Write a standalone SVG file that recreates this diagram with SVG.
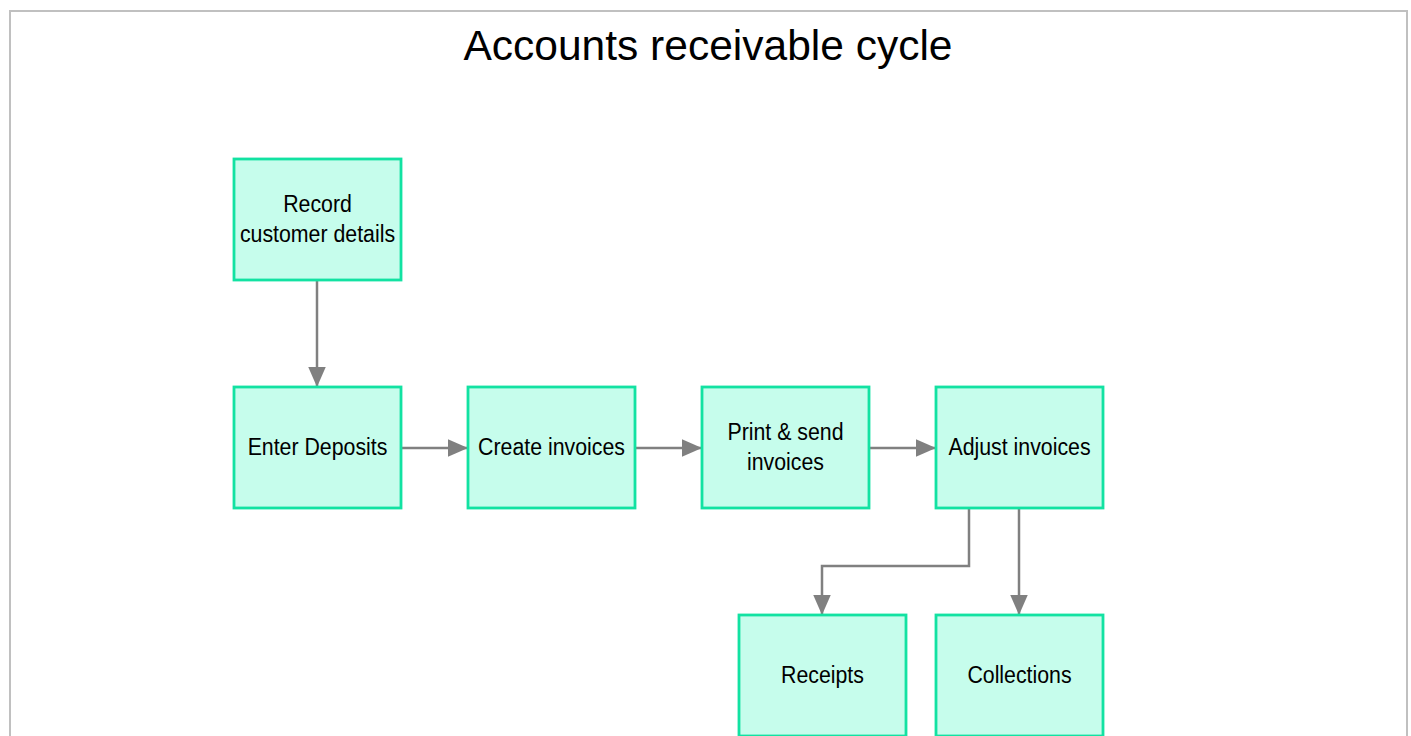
<svg xmlns="http://www.w3.org/2000/svg" width="1411" height="736" viewBox="0 0 1411 736">
<defs>
<style>
.box{fill:#c6fdec;stroke:#12e2a2;stroke-width:2.8}
.lbl{font-family:"Liberation Sans",Arial,sans-serif;font-size:23.5px;fill:#000;text-anchor:middle}
.con{fill:none;stroke:#808080;stroke-width:2.5}
</style>
<marker id="arr" viewBox="0 0 10 10" refX="10" refY="5" markerWidth="8" markerHeight="7" preserveAspectRatio="none" markerUnits="strokeWidth" orient="auto">
<path d="M0,0 L10,5 L0,10 z" fill="#808080"/>
</marker>
</defs>
<rect x="0" y="0" width="1411" height="736" fill="#fff"/>
<rect x="10" y="11" width="1397" height="740" fill="none" stroke="#c0c0c0" stroke-width="2"/>
<text x="708" y="60" font-family="'Liberation Sans',Arial,sans-serif" font-size="42.5" text-anchor="middle" fill="#000">Accounts receivable cycle</text>
<g id="connectors">
<path class="con" d="M317,281 V387" marker-end="url(#arr)"/>
<path class="con" d="M401,448 H468" marker-end="url(#arr)"/>
<path class="con" d="M635,448 H702" marker-end="url(#arr)"/>
<path class="con" d="M869,448 H936" marker-end="url(#arr)"/>
<path class="con" d="M969,509 V566 H822 V615" marker-end="url(#arr)"/>
<path class="con" d="M1019,509 V615" marker-end="url(#arr)"/>
</g>
<g id="record">
<rect class="box" x="234" y="159" width="167" height="121"/>
<text class="lbl" transform="translate(317.5,212) scale(0.907,1)">Record</text>
<text class="lbl" transform="translate(317.5,242) scale(0.907,1)">customer details</text>
</g>
<g id="enter">
<rect class="box" x="234" y="387" width="167" height="121"/>
<text class="lbl" transform="translate(317.5,455) scale(0.907,1)">Enter Deposits</text>
</g>
<g id="create">
<rect class="box" x="468" y="387" width="167" height="121"/>
<text class="lbl" transform="translate(551.5,455) scale(0.907,1)">Create invoices</text>
</g>
<g id="print">
<rect class="box" x="702" y="387" width="167" height="121"/>
<text class="lbl" transform="translate(785.5,440) scale(0.907,1)">Print &amp; send</text>
<text class="lbl" transform="translate(785.5,470) scale(0.907,1)">invoices</text>
</g>
<g id="adjust">
<rect class="box" x="936" y="387" width="167" height="121"/>
<text class="lbl" transform="translate(1019.5,455) scale(0.907,1)">Adjust invoices</text>
</g>
<g id="receipts">
<rect class="box" x="739" y="615" width="167" height="121"/>
<text class="lbl" transform="translate(822.5,683) scale(0.907,1)">Receipts</text>
</g>
<g id="collections">
<rect class="box" x="936" y="615" width="167" height="121"/>
<text class="lbl" transform="translate(1019.5,683) scale(0.907,1)">Collections</text>
</g>
</svg>
